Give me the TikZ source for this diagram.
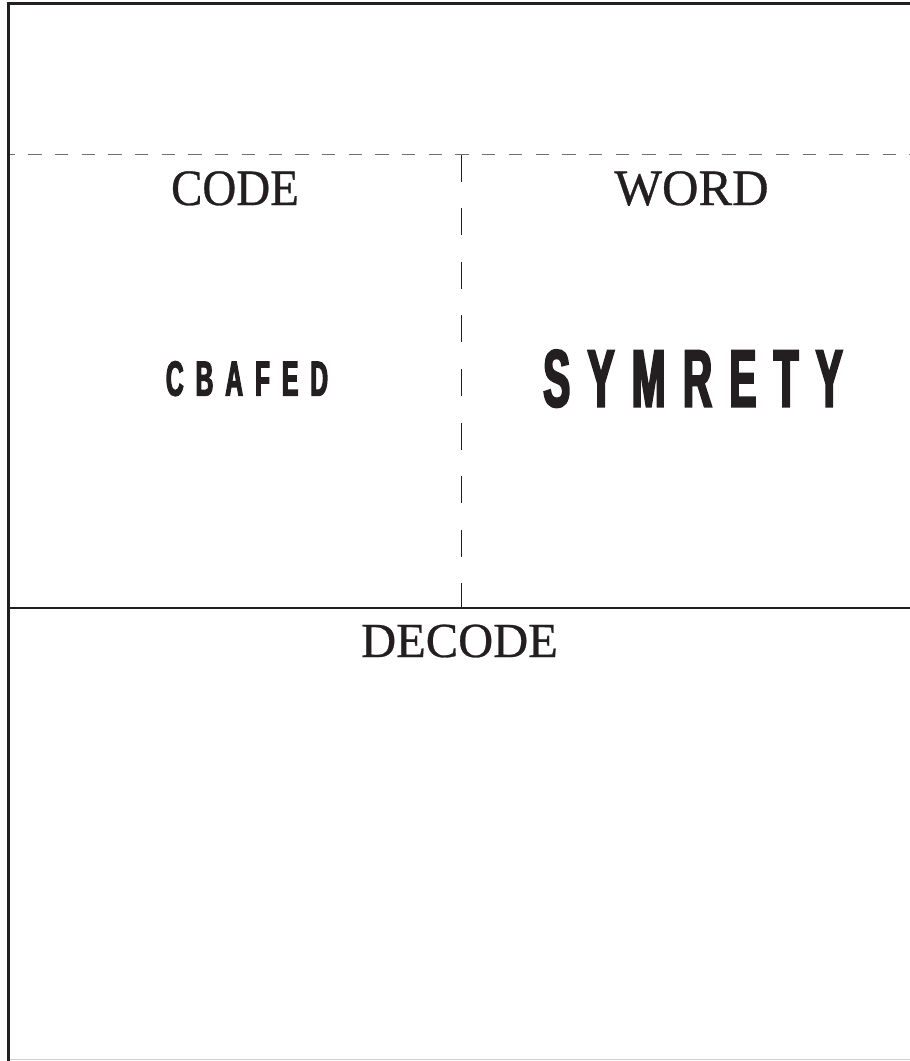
\documentclass[tikz,border=0pt]{standalone}
\usepackage{fontspec}
\setmainfont{Liberation Serif}
\newfontfamily\labelfont[FakeStretch=0.99,FakeBold=0.6]{Liberation Serif}
\newfontfamily\labelfontnarrow[FakeStretch=0.92,FakeBold=0.6]{Liberation Serif}
\newfontfamily\boldcond[FakeStretch=0.5,FakeBold=2.6]{Liberation Sans Bold}
\definecolor{ink}{HTML}{231F20}
\definecolor{dashgray}{HTML}{6B7073}
\definecolor{lightgray}{HTML}{CFCFCF}
\tikzset{
  title/.style={inner sep=0pt, anchor=base, text=ink, font=\labelfont\fontsize{51}{51}\selectfont},
  codeword/.style={inner sep=0pt, anchor=base, text=ink},
}
\begin{document}
\begin{tikzpicture}[x=1pt,y=-1pt]
\useasboundingbox (0,0) rectangle (910,1061);
% outer frame
\draw[ink, line width=2.5pt] (6.5,3.5) -- (910,3.5);
\draw[ink, line width=3pt] (8,2) -- (8,1061);
\draw[lightgray, line width=1.5pt] (9.5,1059.5) -- (910,1059.5);
% dashed fold line
\draw[dashgray, line width=1.6pt, dash pattern=on 13.35pt off 13.35pt, dash phase=8pt] (9.5,154.5) -- (910,154.5);
% middle vertical dashed divider
\coordinate (vtop) at (461.3,154.5);
\coordinate (vbot) at (461.3,608);
\draw[ink, line width=1pt, dash pattern=on 27pt off 26.6pt] (vtop) -- (vbot);
% solid horizontal divider
\draw[ink, line width=1.1pt] (9.5,608) -- (910,608);
% labels
\node[title, font=\labelfontnarrow\fontsize{51}{51}\selectfont] (code) at (235,205) {CODE};
\node[title] (word) at (691.5,205) {WORD};
\node[title, font=\labelfont\fontsize{49}{49}\selectfont] (decode) at (459.5,657) {DECODE};
\node[codeword, font=\boldcond\fontsize{49}{49}\selectfont] (cbafed) at (247,395.5) {C\kern12pt B\kern12pt A\kern12pt F\kern12pt E\kern12pt D};
\node[codeword, font=\boldcond\fontsize{81}{81}\selectfont] (symrety) at (693,406.5) {S\kern17.3pt Y\kern17.3pt M\kern17.3pt R\kern17.3pt E\kern17.3pt T\kern17.3pt Y};
\end{tikzpicture}
\end{document}
